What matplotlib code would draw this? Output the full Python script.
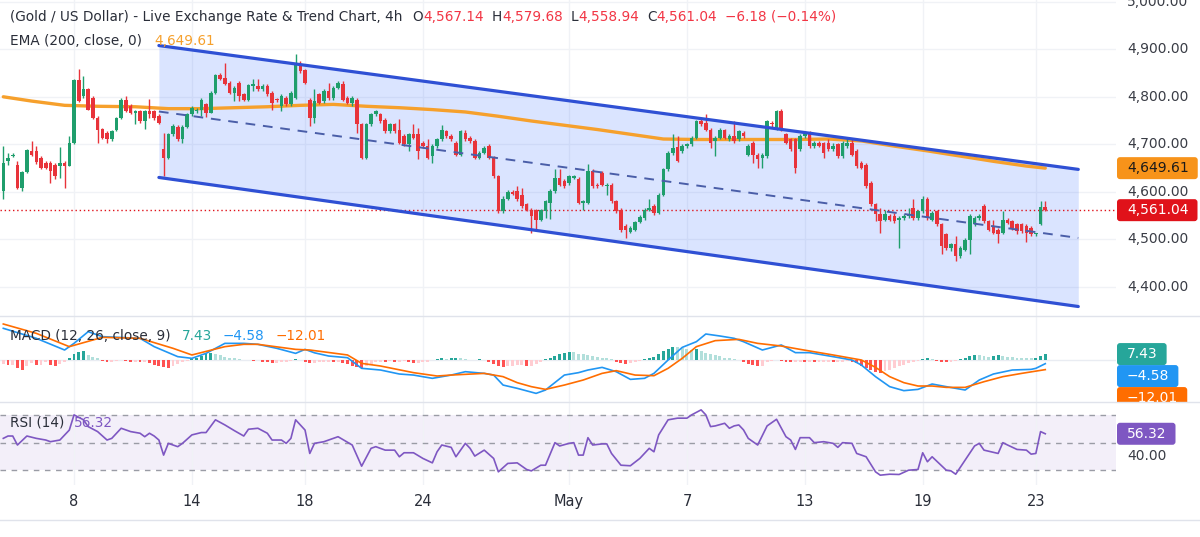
import matplotlib
matplotlib.use("Agg")
import matplotlib.pyplot as plt
from matplotlib.patches import FancyBboxPatch
from matplotlib.lines import Line2D
from matplotlib.transforms import blended_transform_factory
import numpy as np

plt.rcParams['font.family'] = ['DejaVu Sans']

# ---------------- data (4h bars) ----------------
opens = [4601, 4664, 4675, 4657, 4608, 4641, 4686, 4686, 4671, 4661,
         4661, 4657, 4654, 4661, 4655, 4702, 4835, 4801, 4816, 4798,
         4756, 4733, 4724, 4710, 4731, 4756, 4794, 4780, 4766, 4770,
         4749, 4770, 4770, 4759, 4690, 4671, 4721, 4737, 4710, 4737,
         4763, 4770, 4773, 4784, 4766, 4809, 4845, 4840, 4830, 4809,
         4830, 4805, 4794, 4823, 4823, 4816, 4823, 4809, 4794, 4780,
         4798, 4784, 4798, 4868, 4856, 4794, 4756, 4805, 4791, 4812,
         4798, 4819, 4826, 4798, 4787, 4794, 4742, 4671, 4742, 4763,
         4763, 4752, 4728, 4742, 4731, 4717, 4700, 4721, 4721, 4703,
         4696, 4675, 4696, 4710, 4728, 4717, 4703, 4678, 4724, 4714,
         4707, 4671, 4682, 4696, 4671, 4633, 4559, 4585, 4599, 4601,
         4594, 4573, 4562, 4561, 4541, 4559, 4577, 4601, 4629, 4622,
         4619, 4629, 4627, 4577, 4577, 4643, 4615, 4640, 4612, 4615,
         4580, 4562, 4527, 4515, 4520, 4536, 4545, 4562, 4570, 4555,
         4594, 4647, 4682, 4695, 4686, 4696, 4700, 4714, 4749, 4745,
         4731, 4707, 4714, 4731, 4710, 4717, 4710, 4724, 4678, 4703,
         4678, 4671, 4675, 4745, 4735, 4770, 4721, 4710, 4710, 4689,
         4717, 4721, 4696, 4703, 4702, 4702, 4689, 4700, 4675, 4696,
         4703, 4686, 4661, 4657, 4619, 4573, 4552, 4541, 4548, 4548,
         4541, 4545, 4548, 4566, 4545, 4559, 4585, 4541, 4559, 4531,
         4510, 4482, 4489, 4464, 4478, 4499, 4531, 4545, 4570, 4538,
         4527, 4520, 4513, 4541, 4538, 4531, 4531, 4527, 4524, 4510,
         4531, 4567.14]
highs = [4697, 4682, 4681, 4664, 4643, 4689, 4707, 4697, 4675, 4664,
         4664, 4661, 4695, 4664, 4717, 4838, 4858, 4844, 4819, 4801,
         4759, 4735, 4728, 4731, 4758, 4798, 4801, 4784, 4773, 4773,
         4773, 4796, 4773, 4763, 4724, 4724, 4742, 4740, 4740, 4766,
         4780, 4777, 4798, 4787, 4812, 4848, 4851, 4872, 4833, 4823,
         4833, 4809, 4826, 4837, 4838, 4826, 4826, 4812, 4798, 4805,
         4801, 4812, 4891, 4875, 4859, 4798, 4816, 4809, 4816, 4830,
         4823, 4833, 4833, 4801, 4801, 4798, 4745, 4745, 4766, 4773,
         4766, 4756, 4745, 4745, 4754, 4721, 4724, 4742, 4735, 4707,
         4710, 4700, 4714, 4740, 4731, 4721, 4707, 4731, 4731, 4717,
         4710, 4685, 4696, 4700, 4675, 4636, 4591, 4603, 4603, 4612,
         4608, 4577, 4566, 4564, 4564, 4583, 4605, 4647, 4647, 4626,
         4636, 4636, 4631, 4583, 4659, 4647, 4619, 4643, 4619, 4619,
         4583, 4566, 4531, 4527, 4538, 4550, 4566, 4585, 4573, 4598,
         4650, 4686, 4721, 4717, 4700, 4703, 4717, 4752, 4756, 4763,
         4735, 4717, 4735, 4733, 4721, 4749, 4731, 4728, 4700, 4707,
         4682, 4682, 4752, 4749, 4773, 4775, 4724, 4714, 4714, 4721,
         4728, 4728, 4707, 4707, 4705, 4712, 4702, 4703, 4707, 4714,
         4710, 4689, 4664, 4661, 4622, 4577, 4566, 4562, 4552, 4555,
         4548, 4552, 4566, 4585, 4562, 4591, 4589, 4559, 4562, 4534,
         4513, 4492, 4506, 4485, 4503, 4552, 4548, 4552, 4573, 4541,
         4541, 4524, 4559, 4545, 4541, 4534, 4534, 4531, 4527, 4513,
         4580, 4579.68]
lows = [4584, 4657, 4673, 4605, 4601, 4640, 4675, 4659, 4647, 4647,
        4619, 4626, 4629, 4608, 4654, 4700, 4789, 4798, 4772, 4754,
        4703, 4712, 4702, 4707, 4728, 4754, 4768, 4763, 4742, 4745,
        4733, 4756, 4752, 4742, 4633, 4668, 4717, 4707, 4703, 4735,
        4759, 4766, 4759, 4758, 4765, 4805, 4835, 4824, 4805, 4791,
        4791, 4791, 4791, 4812, 4812, 4812, 4801, 4773, 4789, 4770,
        4780, 4780, 4796, 4851, 4826, 4738, 4745, 4784, 4787, 4794,
        4794, 4816, 4791, 4784, 4780, 4724, 4668, 4669, 4738, 4759,
        4745, 4724, 4724, 4724, 4700, 4696, 4686, 4710, 4668, 4693,
        4668, 4661, 4693, 4707, 4714, 4707, 4675, 4675, 4707, 4703,
        4668, 4668, 4679, 4668, 4629, 4555, 4555, 4582, 4592, 4580,
        4566, 4559, 4513, 4520, 4538, 4545, 4543, 4598, 4612, 4608,
        4615, 4626, 4573, 4562, 4573, 4608, 4608, 4612, 4592, 4577,
        4555, 4515, 4503, 4512, 4517, 4533, 4541, 4559, 4550, 4552,
        4591, 4643, 4678, 4662, 4682, 4693, 4696, 4710, 4738, 4728,
        4693, 4675, 4710, 4710, 4707, 4703, 4707, 4714, 4675, 4661,
        4650, 4650, 4671, 4737, 4731, 4728, 4700, 4685, 4640, 4685,
        4714, 4693, 4693, 4694, 4671, 4686, 4686, 4671, 4671, 4693,
        4675, 4650, 4647, 4608, 4570, 4538, 4513, 4538, 4538, 4534,
        4482, 4541, 4545, 4541, 4541, 4555, 4541, 4538, 4527, 4468,
        4478, 4475, 4453, 4461, 4475, 4468, 4527, 4541, 4534, 4517,
        4510, 4492, 4510, 4531, 4520, 4510, 4513, 4494, 4506, 4506,
        4529, 4558.94]
closes = [4661, 4671, 4678, 4608, 4641, 4687, 4678, 4662, 4650, 4650,
          4643, 4633, 4661, 4655, 4702, 4835, 4791, 4816, 4773, 4756,
          4731, 4714, 4710, 4728, 4756, 4794, 4770, 4766, 4770, 4749,
          4770, 4763, 4756, 4745, 4671, 4721, 4738, 4710, 4737, 4763,
          4777, 4773, 4794, 4766, 4809, 4845, 4838, 4826, 4809, 4819,
          4801, 4794, 4824, 4826, 4816, 4823, 4805, 4787, 4793, 4801,
          4784, 4809, 4868, 4854, 4830, 4756, 4791, 4787, 4812, 4798,
          4819, 4830, 4794, 4787, 4798, 4742, 4671, 4742, 4763, 4770,
          4749, 4728, 4742, 4728, 4703, 4700, 4721, 4714, 4686, 4696,
          4671, 4696, 4710, 4731, 4717, 4710, 4678, 4728, 4710, 4707,
          4671, 4682, 4693, 4671, 4633, 4559, 4585, 4599, 4596, 4584,
          4570, 4562, 4548, 4541, 4561, 4580, 4601, 4629, 4615, 4612,
          4633, 4633, 4577, 4580, 4643, 4612, 4612, 4615, 4615, 4580,
          4559, 4520, 4519, 4524, 4536, 4547, 4562, 4566, 4555, 4594,
          4647, 4682, 4693, 4664, 4696, 4700, 4714, 4749, 4742, 4731,
          4703, 4714, 4731, 4714, 4717, 4707, 4728, 4717, 4696, 4678,
          4668, 4678, 4749, 4742, 4770, 4731, 4703, 4689, 4650, 4717,
          4721, 4696, 4703, 4697, 4682, 4689, 4697, 4675, 4703, 4703,
          4678, 4654, 4650, 4612, 4573, 4552, 4538, 4552, 4541, 4538,
          4545, 4548, 4552, 4545, 4559, 4585, 4545, 4555, 4531, 4485,
          4482, 4489, 4464, 4482, 4499, 4548, 4545, 4548, 4538, 4520,
          4513, 4510, 4541, 4534, 4524, 4517, 4517, 4513, 4510, 4511,
          4567.22, 4561.04]

# EMA 200 (read at sparse bars)
ema_bars = [0, 6, 13, 20, 28, 35, 42, 49, 56, 63, 70, 77, 84, 91, 98, 105, 112,
            119, 126, 133, 140, 147, 154, 161, 168, 175, 182, 189, 196, 203,
            210, 217, 221]
ema_vals = [4800, 4791, 4782, 4780, 4779, 4775, 4775, 4777, 4779, 4782, 4784,
            4780, 4777, 4773, 4768, 4759, 4749, 4740, 4731, 4721, 4711, 4710,
            4710, 4710, 4710, 4711, 4707, 4696, 4686, 4675, 4664, 4654, 4649.61]

# descending channel drawing (anchor bars / prices)
channel_bars = [33, 228]
channel_upper = [4908, 4647]
channel_lower = [4630, 4358]

# MACD (12, 26, close, 9)
macd_bars = [0, 7, 13, 15, 18, 21, 29, 32, 37, 40, 43, 47, 51, 54, 58, 62, 64,
             66, 69, 73, 76, 80, 84, 87, 91, 95, 98, 102, 104, 106, 109, 113,
             115, 119, 122, 124, 127, 130, 133, 136, 138, 141, 144, 147, 149,
             152, 155, 157, 161, 165, 168, 171, 176, 180, 182, 185, 188, 191,
             194, 197, 200, 204, 207, 210, 214, 218, 219, 221]
macd_vals = [39.6, 27.1, 12.5, 20.8, 35.4, 29.2, 27.1, 16.7, 4.2, 2.1, 8.3,
             20.8, 20.8, 19.6, 14.6, 8.3, 13.3, 9.0, 5.0, 2.9, -10.4, -12.5,
             -17.5, -18.8, -22.9, -18.8, -14.6, -16.7, -18.8, -31.3, -35.4,
             -41.7, -37.5, -18.8, -15.8, -12.5, -9.2, -14.6, -24.2, -22.9,
             -16.7, 0.0, 15.8, 22.9, 32.5, 30.0, 27.1, 22.9, 12.5, 18.8, 9.2,
             9.2, 4.2, 0.0, -6.3, -20.8, -33.3, -38.3, -36.7, -30.0, -33.3,
             -37.5, -25.0, -17.5, -12.5, -11.7, -10.4, -4.58]
sig_bars = [0, 7, 14, 21, 29, 36, 40, 47, 51, 54, 62, 65, 73, 76, 80, 87, 92,
            95, 102, 106, 109, 112, 115, 119, 123, 127, 130, 134, 138, 141,
            144, 147, 151, 156, 160, 165, 169, 176, 182, 185, 188, 191, 194,
            197, 200, 204, 208, 212, 216, 221]
sig_vals = [45, 33.3, 16.7, 28.3, 27.1, 14.6, 6.3, 16.7, 19.6, 19.6, 13.3,
            12.5, 6.3, -4.2, -7.5, -15.8, -20, -18.8, -16.7, -20.8, -28.3,
            -33.3, -36.7, -31.3, -25, -16.7, -13.3, -18.8, -19.6, -10.4, 2.1,
            16.7, 24.2, 25.8, 20.8, 17.5, 13.3, 6.3, 0, -9.2, -20.8, -28.3,
            -32.5, -32.5, -34.2, -34.2, -27.1, -20.8, -16.7, -12.01]
hist_vals = [-5, -6, -6, -10, -12, -7, -4, -6, -6, -3,
             -6, -7, -5, -2, 3, 7, 10, 11, 6, 4,
             2, -1, -2, -2, -1, 0, -1, -2, -2, -3,
             -3, -4, -6, -7, -9, -10, -8, -5, -3, -1,
             1, 3, 5, 7, 9, 8, 6, 4, 3, 2,
             1, 0, 0, -1, 0, -2, -3, -4, -4, -3,
             -2, -1, 1, 0, -3, -4, -4, -3, -2, -2,
             -3, -2, -4, -5, -7, -9, -10, -7, -5, -3,
             -2, -3, -1, -3, -2, -1, -2, -4, -4, -3,
             -2, 0, 1, 2, 1, 2, 3, 2, 1, 0,
             0, 1, 0, -2, -5, -8, -9, -8, -7, -6,
             -6, -7, -7, -5, -3, 1, 3, 5, 7, 9,
             10, 10, 8, 7, 6, 5, 4, 3, 2, 1,
             -2, -4, -5, -4, -2, -1, 1, 2, 4, 8,
             11, 14, 16, 16, 15, 14, 13, 14, 11, 9,
             7, 6, 5, 3, 2, 1, 0, -3, -5, -6,
             -7, -7, -3, -1, 0, -1, -2, -3, -3, -2,
             -3, -2, -3, -3, -3, -2, -3, -2, -2, -1,
             -2, -4, -7, -10, -13, -15, -16, -14, -12, -10,
             -8, -6, -4, -3, -1, 1, 2, 1, -1, -2,
             -3, -2, -1, 1, 3, 5, 6, 6, 5, 4,
             5, 6, 5, 4, 4, 3, 3, 2, 2, 3,
             5, 7.43]

# RSI (14)
rsi_bars = [0, 1, 2, 3, 5, 7, 9, 10, 12, 14, 15, 17, 18, 20, 22, 23, 25, 27, 29,
            30, 31, 32, 33, 34, 35, 37, 38, 40, 42, 43, 45, 47, 49, 51, 52, 54,
            56, 57, 59, 60, 61, 62, 64, 65, 66, 68, 70, 71, 74, 76, 78, 79, 81,
            83, 84, 85, 87, 89, 91, 92, 93, 95, 96, 98, 99, 100, 102, 104, 105,
            107, 109, 111, 112, 114, 115, 117, 118, 120, 121, 122, 123, 124,
            125, 127, 128, 129, 131, 133, 135, 137, 138, 139, 141, 143, 145,
            146, 148, 149, 150, 151, 153, 154, 155, 156, 157, 158, 160, 162,
            164, 166, 167, 168, 169, 171, 172, 174, 176, 177, 178, 180, 181,
            183, 185, 186, 188, 190, 192, 194, 195, 196, 197, 200, 201, 202,
            204, 206, 207, 208, 211, 212, 213, 215, 217, 218, 219, 220, 221]
rsi_vals = [53, 54.7, 54.7, 48.2, 54.7, 53, 51.8, 50.6, 51.8, 59, 70, 66.4,
            61.5, 57.9, 51.8, 53, 60.3, 57.9, 56.7, 54.2, 56.7, 54.7, 51.8,
            40.9, 49.4, 47, 49.4, 55.5, 57.2, 57.2, 66.4, 62.7, 58.6, 54.7,
            59.6, 60.3, 56.7, 51.8, 51.8, 49.4, 53, 66.4, 59, 42.1, 49.4, 50.6,
            53, 54.2, 48.2, 32.9, 45.8, 47, 44.5, 44.5, 39.7, 42.6, 42.6, 38.5,
            35.3, 43.3, 48.2, 46.5, 39.7, 49.4, 45.8, 40.2, 44.5, 38.5, 28.8,
            34.9, 35.3, 30.5, 29.5, 33.6, 33.6, 49.9, 47.5, 49.4, 49.9, 40.9,
            40.9, 53.5, 48.2, 49, 49, 42.1, 33.6, 33.2, 38.5, 45.8, 43.3, 55.5,
            66.4, 67.6, 67.6, 70, 73.6, 70, 61.5, 62, 63.9, 60.3, 62, 62.7,
            59.1, 53, 48.2, 62, 66.8, 54.2, 51.8, 45, 53.5, 53.5, 49.9, 50.6,
            49.4, 46.5, 49.9, 49.4, 42.1, 39.7, 28.8, 26.4, 27.1, 26.9, 30,
            30.5, 42.6, 36.1, 39.7, 30, 29.5, 27.1, 37.3, 47.5, 49.4, 44.5,
            42.1, 49.9, 48.2, 45, 44.5, 41.6, 42.1, 57.9, 56.32]

date_ticks = [15, 40, 64, 89, 120, 145, 170, 195, 219]
date_labels = ['8', '14', '18', '24', 'May', '7', '13', '19', '23']
price_ticks = [4400, 4500, 4600, 4700, 4800, 4900, 5000]
rsi_axis_ticks = [40]

# ---------------- styling ----------------
GREEN = '#1f9e6c'
RED = '#e8333a'
EMA_C = '#f6a02c'
CH_C = '#2f50d4'
MACD_C = '#2196f3'
SIG_C = '#ff6d00'
RSI_C = '#7e57c2'
TXT = '#2a2e39'
GRID = '#f0f2f6'
SEP = '#e0e3eb'

W, H = 1200, 537
fig = plt.figure(figsize=(W / 100, H / 100), dpi=100)
fig.patch.set_facecolor('white')
renderer = fig.canvas.get_renderer()
PR = 1116
P_TOP, P_BOT, M_BOT, R_BOT = 0, 316, 401.7, 485


def fax(x0, y0, x1, y1):
    return fig.add_axes([x0 / W, 1 - y1 / H, (x1 - x0) / W, (y1 - y0) / H])


ax_p = fax(0, P_TOP, PR, P_BOT)
ax_m = fax(0, P_BOT, PR, M_BOT)
ax_r = fax(0, M_BOT, PR, R_BOT)
lab_p = fax(PR, P_TOP, W, P_BOT)
lab_m = fax(PR, P_BOT, W, M_BOT)
lab_r = fax(PR, M_BOT, W, R_BOT)

XL = (-0.7, 236)
for ax in (ax_p, ax_m, ax_r):
    ax.set_xlim(*XL)
    for s in ax.spines.values():
        s.set_visible(False)
    ax.set_facecolor('none')
    ax.set_xticks(date_ticks)
    ax.tick_params(length=0, labelleft=False, labelbottom=False)
    ax.grid(axis='x', color=GRID, lw=1)
    ax.set_axisbelow(True)
for ax in (lab_p, lab_m, lab_r):
    ax.axis('off')

# ---- price pane ----
ax_p.set_ylim(4338, 5004)
ax_p.set_yticks(price_ticks)
ax_p.grid(axis='y', color=GRID, lw=1)
lab_p.set_ylim(ax_p.get_ylim())

cu = np.array(channel_upper, float)
cl = np.array(channel_lower, float)
ax_p.fill_between(channel_bars, cl, cu, color='#2962ff', alpha=0.17, lw=0, zorder=1)

ax_p.axhline(closes[-1], color='#e0121a', lw=1.0, ls=(0, (1, 2)), zorder=2)
ax_p.plot(ema_bars, ema_vals, color=EMA_C, lw=2.4, zorder=2.5, solid_capstyle='round')

idx = np.arange(len(closes))
o = np.array(opens, float)
c = np.array(closes, float)
hi = np.array(highs, float)
lo = np.array(lows, float)
cols = np.where(c >= o, GREEN, RED)
ax_p.vlines(idx, lo, hi, colors=cols, lw=1.0, zorder=3)
ax_p.bar(idx, np.maximum(np.abs(c - o), 2.0), bottom=np.minimum(o, c), width=0.76,
         color=cols, lw=0, zorder=4)

ax_p.plot(channel_bars, cu, color=CH_C, lw=2.3, zorder=6, solid_capstyle='round')
ax_p.plot(channel_bars, cl, color=CH_C, lw=2.3, zorder=6, solid_capstyle='round')
ax_p.plot(channel_bars, (cu + cl) / 2, color='#4a5ea8', lw=1.4, ls=(0, (5, 4)), zorder=6)

# ---- MACD pane ----
ax_m.set_ylim(-52.1, 55)
ax_m.set_yticks([0])
ax_m.grid(axis='y', color='#e9ecf2', lw=1)
hv = np.array(hist_vals, float)
prev = np.concatenate([[hv[0]], hv[:-1]])
hcols = np.where(hv >= 0, np.where(hv > prev, '#26a69a', '#b2dfdb'),
                 np.where(hv < prev, '#ff5252', '#ffcdd2'))
ax_m.bar(np.arange(len(hv)), hv, width=0.62, color=hcols, lw=0, zorder=2)
ax_m.plot(macd_bars, macd_vals, color=MACD_C, lw=1.2, zorder=3)
ax_m.plot(sig_bars, sig_vals, color=SIG_C, lw=1.2, zorder=3)
lab_m.set_ylim(ax_m.get_ylim())

# ---- RSI pane ----
ax_r.set_ylim(19.3, 79.5)
ax_r.fill_between(XL, 30, 70, color=RSI_C, alpha=0.09, lw=0, zorder=0)
for lvl in (70, 50, 30):
    ax_r.axhline(lvl, color='#9a9ca5', lw=1, ls=(0, (4, 4)), zorder=1)
ax_r.plot(rsi_bars, rsi_vals, color=RSI_C, lw=1.2, zorder=3)
ax_r.set_xticklabels(date_labels)
ax_r.tick_params(axis='x', labelbottom=True, pad=6.5, labelsize=10.5, labelcolor='#2a2e39')
lab_r.set_ylim(ax_r.get_ylim())

# ---- separators ----
for ypx in (P_BOT, M_BOT, 520):
    fig.add_artist(Line2D([0, 1], [1 - ypx / H, 1 - ypx / H], transform=fig.transFigure,
                          color=SEP, lw=1))

# ---- right-hand scale labels ----
LAB_W = W - PR
TX = (1127 - PR) / LAB_W


def tick_label(lab, v, s):
    tr = blended_transform_factory(lab.transAxes, lab.transData)
    lab.text(TX, v, s, transform=tr, fontsize=10, color='#3a3d46', va='center',
             ha='left', clip_on=True)


def value_box(lab, y_px, pane_h, s, fc, tc):
    yf = 1 - y_px / pane_h
    t = lab.text(TX, yf, s, transform=lab.transAxes, fontsize=10, color=tc,
                 va='center', ha='left', clip_on=True, zorder=5)
    w = t.get_window_extent(renderer).width
    box_h = 22
    p = FancyBboxPatch((1 / LAB_W, yf - box_h / 2 / pane_h), (10 + w + 9) / LAB_W,
                       box_h / pane_h,
                       boxstyle='round,pad=0,rounding_size=%f' % (3 / LAB_W),
                       mutation_aspect=LAB_W / pane_h,
                       transform=lab.transAxes, fc=fc, ec='none', clip_on=True, zorder=4)
    lab.add_patch(p)


def to_px(ax, v, pane_h):
    y0, y1 = ax.get_ylim()
    return (y1 - v) / (y1 - y0) * pane_h


ph = P_BOT - P_TOP
for v in price_ticks:
    tick_label(lab_p, v, f"{v:,.2f}")
value_box(lab_p, to_px(ax_p, ema_vals[-1], ph), ph, f"{ema_vals[-1]:,.2f}", '#f7931a', '#1a1a1a')
value_box(lab_p, to_px(ax_p, closes[-1], ph), ph, f"{closes[-1]:,.2f}", '#e0121a', 'white')

mh = M_BOT - P_BOT
prev_y = -100
for v, fc in ((hist_vals[-1], '#26a69a'), (macd_vals[-1], '#2196f3'), (sig_vals[-1], '#ff6d00')):
    y = max(to_px(ax_m, v, mh), prev_y + 22)
    value_box(lab_m, y, mh, f"{v:.2f}".replace('-', '\u2212'), fc, 'white')
    prev_y = y

rh = R_BOT - M_BOT
for v in rsi_axis_ticks:
    tick_label(lab_r, v, f"{v:.2f}")
value_box(lab_r, to_px(ax_r, rsi_vals[-1], rh), rh, f"{rsi_vals[-1]:.2f}", '#7e57c2', 'white')


# ---- legends (top-left of each pane) ----
def seq(x_px, y_px, pieces, size=9.8):
    x = x_px
    for s, col, gap in pieces:
        x += gap
        t = fig.text(x / W, 1 - y_px / H, s, color=col, fontsize=size, va='center', ha='left')
        x += t.get_window_extent(renderer).width


chg = closes[-1] - closes[-2]
pct = chg / closes[-2] * 100
LRED = '#f23645'
seq(10, 17, [("(Gold / US Dollar) - Live Exchange Rate & Trend Chart, 4h", TXT, 0),
             ("O", TXT, 10), (f"{opens[-1]:,.2f}", LRED, 0),
             ("H", TXT, 8), (f"{highs[-1]:,.2f}", LRED, 0),
             ("L", TXT, 8), (f"{lows[-1]:,.2f}", LRED, 0),
             ("C", TXT, 8), (f"{closes[-1]:,.2f}", LRED, 0),
             (f"{chg:.2f} ({pct:.2f}%)".replace('-', '\u2212'), LRED, 8)])
seq(10, 41, [("EMA (200, close, 0)", TXT, 0), (f"{ema_vals[-1]:,.2f}", EMA_C, 12)])
seq(10, 336, [("MACD (12, 26, close, 9)", TXT, 0),
              (f"{hist_vals[-1]:.2f}", '#26a69a', 11),
              (f"{macd_vals[-1]:.2f}".replace('-', '\u2212'), MACD_C, 11),
              (f"{sig_vals[-1]:.2f}".replace('-', '\u2212'), SIG_C, 11)])
seq(10, 422.7, [("RSI (14)", TXT, 0), (f"{rsi_vals[-1]:.2f}", RSI_C, 10)])

fig.savefig('out.png', dpi=100, facecolor='white')
